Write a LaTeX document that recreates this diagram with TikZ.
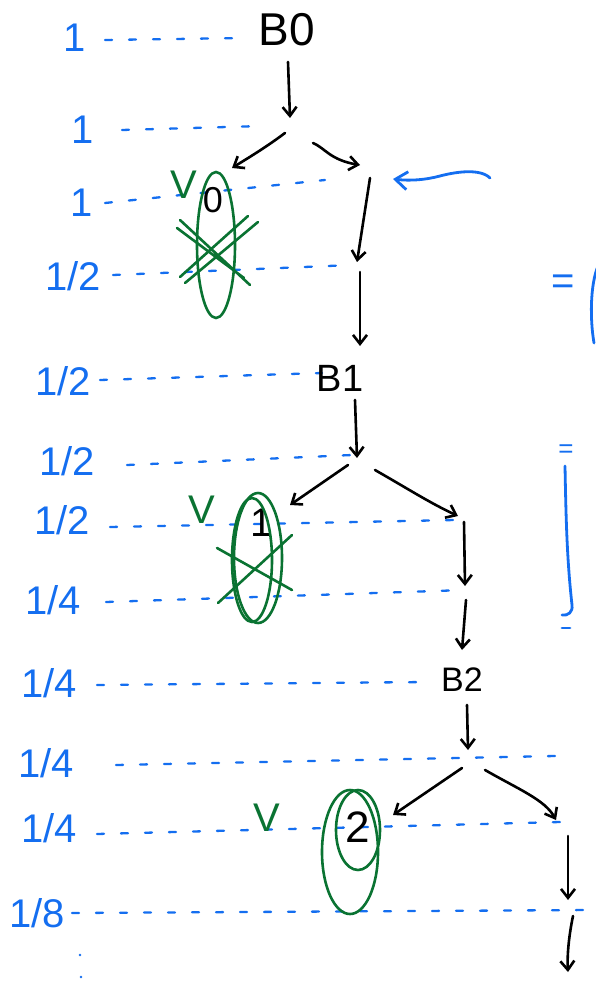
\documentclass[tikz,border=0pt]{standalone}
\usepackage{fontspec}
\setmainfont{Liberation Sans}
\usetikzlibrary{arrows.meta}
\definecolor{pblue}{RGB}{20,110,240}
\definecolor{pgreen}{RGB}{10,115,50}
\tikzset{
  lvl/.style={text=pblue, font=\fontsize{40}{40}\selectfont, inner sep=0pt},
  guide/.style={draw=pblue, line width=2.3pt, line cap=round, dash pattern=on 7pt off 17pt},
  state/.style={font=\fontsize{46}{46}\selectfont, inner sep=0pt},
  small/.style={font=\fontsize{36}{36}\selectfont, inner sep=0pt},
  pen/.style={draw=black, line width=2.6pt, line cap=round, -{Straight Barb[length=9pt,width=14pt]}},
  gpen/.style={draw=pgreen, line width=2.6pt, line cap=round},
  vmark/.style={text=pgreen, font=\fontsize{40}{40}\selectfont, inner sep=0pt},
  bpen/.style={draw=pblue, line width=2.8pt, line cap=round}
}
\begin{document}
\begin{tikzpicture}[x=1pt,y=-1pt]
\useasboundingbox (0,0) rectangle (595,981);
% level labels
\node[lvl] (l1) at (75,38) {1};
\node[lvl] (l2) at (83,130) {1};
\node[lvl] (l3) at (82,203) {1};
\node[lvl] (l4) at (73,276) {1/2};
\node[lvl] (l5) at (63,381) {1/2};
\node[lvl] (l6) at (67,461) {1/2};
\node[lvl] (l7) at (62,520) {1/2};
\node[lvl] (l8) at (53,600) {1/4};
\node[lvl] (l9) at (49,683) {1/4};
\node[lvl] (l10) at (46,763) {1/4};
\node[lvl] (l11) at (49,828) {1/4};
\node[lvl] (l12) at (37,913) {1/8};
\fill[pblue] (80,955) circle (1.4pt) (81,977) circle (1.4pt);
% guide lines
\coordinate (g1) at (245,38);
\coordinate (g2) at (262,126);
\coordinate (g3) at (325,180);
\coordinate (g4) at (352,265);
\coordinate (g5) at (322,373);
\coordinate (g6) at (352,455);
\coordinate (g7) at (455,520);
\coordinate (g8) at (465,590);
\coordinate (g9) at (428,682);
\coordinate (g10) at (555,756);
\coordinate (g11) at (560,822);
\coordinate (g12) at (592,910);
\draw[guide] (105,40) -- (g1);
\draw[guide] (122,130) -- (g2);
\draw[guide] (105,203) -- (g3);
\draw[guide] (113,275) -- (g4);
\draw[guide] (100,380) -- (g5);
\draw[guide] (127,465) -- (g6);
\draw[guide] (110,527) -- (g7);
\draw[guide] (106,602) -- (g8);
\draw[guide] (97,685) -- (g9);
\draw[guide] (116,765) -- (g10);
\draw[guide] (97,834) -- (g11);
\draw[guide] (72,913) -- (g12);
% states
\node[state] (b0) at (287,30) {B0};
\node[state, font=\fontsize{38}{38}\selectfont] (b1) at (340,378) {B1};
\node[state, font=\fontsize{34}{34}\selectfont] (b2) at (462,680) {B2};
\node[small] (n0) at (213,200) {0};
\node[small, font=\fontsize{40}{40}\selectfont] (n1) at (262,523) {1};
\node[small, font=\fontsize{44}{44}\selectfont] (n2) at (358,827) {2};
\coordinate (s0) at (290,118);
\coordinate (r0a) at (360,165);
\coordinate (r0b) at (357,262);
\coordinate (r0c) at (360,346);
\coordinate (s1) at (357,458);
\coordinate (r1a) at (458,516);
\coordinate (r1b) at (465,586);
\coordinate (r1c) at (462,650);
\coordinate (s2) at (468,750);
\coordinate (r2a) at (556,820);
\coordinate (r2b) at (568,900);
\coordinate (r2c) at (568,972);
\coordinate (t0) at (232,168);
\coordinate (t1) at (290,505);
\coordinate (t2) at (393,815);
\draw[pen] (288,62) -- (s0);
\draw[pen] (285,133) .. controls (265,148) and (248,158) .. (t0);
\draw[pen] (313,143) .. controls (325,148) and (330,160) .. (r0a);
\draw[pen] (370,178) -- (r0b);
\draw[pen] (360,272) -- (r0c);
\draw[pen] (355,400) -- (s1);
\draw[pen] (348,465) -- (t1);
\draw[pen] (375,470) .. controls (410,490) and (430,503) .. (r1a);
\draw[pen] (464,522) -- (r1b);
\draw[pen] (466,600) -- (r1c);
\draw[pen] (467,705) -- (s2);
\draw[pen] (462,768) -- (t2);
\draw[pen] (485,770) .. controls (520,790) and (545,800) .. (r2a);
\draw[pen] (568,836) -- (r2b);
\draw[pen] (573,916) .. controls (569,935) and (567,955) .. (r2c);
% green marks
\draw[gpen] (216,245) ellipse (19pt and 73pt);
\draw[gpen] (180,220) -- (250,285) (177,228) -- (244,278);
\draw[gpen] (180,277) -- (248,216) (185,283) -- (258,222);
\draw[gpen] (258,558) ellipse (24pt and 65pt);
\draw[gpen] (252,560) ellipse (20pt and 62pt);
\draw[gpen] (217,548) -- (292,590) (218,603) -- (292,535);
\draw[gpen] (350,852) ellipse (28pt and 62pt);
\draw[gpen] (358,830) ellipse (22pt and 40pt);
\node[vmark] (v0) at (184,185) {V};
\node[vmark] (v1) at (202,510) {V};
\node[vmark] (v2) at (267,818) {V};
% blue marks
\coordinate (pa) at (490,178);
\draw[bpen, -{Straight Barb[length=12pt,width=18pt]}] (pa) .. controls (480,168) and (455,172) .. (440,176) .. controls (425,180) and (410,181) .. (393,179);
\node[lvl] (eq1) at (563,285) {=};
\draw[bpen] (598,266) .. controls (590,285) and (590,320) .. (594,343);
\node[lvl, font=\fontsize{26}{26}\selectfont] (eq2) at (566,451) {=};
\draw[bpen] (565,466) .. controls (566,520) and (567,560) .. (572,605) .. controls (573,612) and (568,616) .. (562,615);
\draw[bpen] (562,628) -- (570,628);
\end{tikzpicture}
\end{document}
